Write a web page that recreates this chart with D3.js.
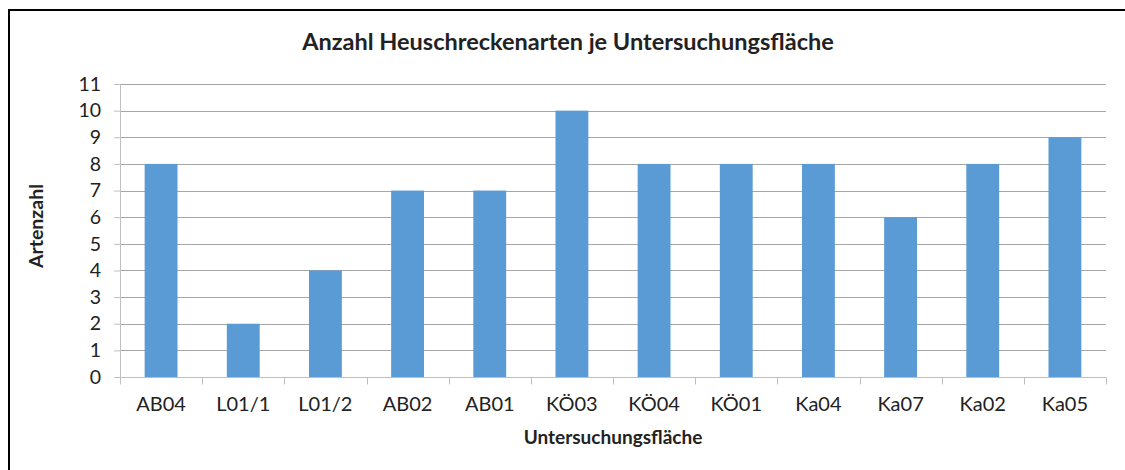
<!DOCTYPE html>
<html>
<head>
<meta charset="utf-8">
<script src="https://cdn.jsdelivr.net/npm/d3@7"></script>
<style>
  body { margin: 0; background: #fff; }
  text { font-family: Lato, "Open Sans", sans-serif; fill: #222; }
</style>
</head>
<body>
<div id="chart"></div>
<script>
// Data
const categories = ['AB04', 'L01/1', 'L01/2', 'AB02', 'AB01', 'KÖ03', 'KÖ04', 'KÖ01', 'Ka04', 'Ka07', 'Ka02', 'Ka05'];
const values = [8, 2, 4, 7, 7, 10, 8, 8, 8, 6, 8, 9];
const yTicks = [0, 1, 2, 3, 4, 5, 6, 7, 8, 9, 10, 11];

const width = 1125;
const height = 470;
const margin = { top: 84, right: 19, bottom: 93, left: 120 };

const svg = d3.select('#chart')
  .append('svg')
  .attr('width', width)
  .attr('height', height);

// outer frame
svg.append('rect')
  .attr('x', 9).attr('y', 10)
  .attr('width', width + 10).attr('height', height)
  .attr('fill', 'none')
  .attr('stroke', '#000')
  .attr('stroke-width', 2);

const x = d3.scaleBand()
  .domain(categories)
  .range([margin.left, width - margin.right])
  .paddingInner(0.6)
  .paddingOuter(0.3);

const y = d3.scaleLinear()
  .domain([0, 11])
  .range([height - margin.bottom, margin.top]);

// gridlines
svg.append('g')
  .selectAll('line')
  .data(yTicks.filter(d => d > 0))
  .enter()
  .append('line')
  .attr('x1', margin.left)
  .attr('x2', width - margin.right)
  .attr('y1', d => Math.round(y(d)) + 0.5)
  .attr('y2', d => Math.round(y(d)) + 0.5)
  .attr('stroke', '#a6a6a6')
  .attr('stroke-width', 1);

// bars
svg.append('g')
  .selectAll('rect')
  .data(values)
  .enter()
  .append('rect')
  .attr('x', (d, i) => x(categories[i]))
  .attr('y', d => y(d))
  .attr('width', x.bandwidth())
  .attr('height', d => y(0) - y(d))
  .attr('fill', '#5b9bd5');

// y axis
const yAxis = svg.append('g')
  .attr('transform', `translate(${margin.left},0)`)
  .call(d3.axisLeft(y).tickValues(yTicks).tickSize(6).tickPadding(13).tickFormat(d3.format('d')));
yAxis.select('.domain').attr('stroke', '#bfbfbf');
yAxis.selectAll('.tick line').attr('stroke', '#bfbfbf');
yAxis.selectAll('.tick text').attr('font-size', 19.5).attr('font-family', 'Lato, sans-serif').attr('fill', '#222');

// x axis with ticks between categories
const xAxisY = Math.round(y(0)) + 0.5;
svg.append('line')
  .attr('x1', margin.left).attr('x2', width - margin.right)
  .attr('y1', xAxisY).attr('y2', xAxisY)
  .attr('stroke', '#bfbfbf');

const step = x.step();
const boundaries = d3.range(categories.length + 1).map(i => margin.left + i * step);
svg.append('g')
  .selectAll('line')
  .data(boundaries)
  .enter()
  .append('line')
  .attr('x1', d => Math.round(d) + 0.5)
  .attr('x2', d => Math.round(d) + 0.5)
  .attr('y1', xAxisY)
  .attr('y2', xAxisY + 7)
  .attr('stroke', '#bfbfbf');

svg.append('g')
  .selectAll('text')
  .data(categories)
  .enter()
  .append('text')
  .attr('x', d => x(d) + x.bandwidth() / 2)
  .attr('y', 411)
  .attr('text-anchor', 'middle')
  .attr('font-size', 20)
  .text(d => d);

// titles
svg.append('text')
  .attr('x', 568)
  .attr('y', 50)
  .attr('text-anchor', 'middle')
  .attr('font-size', 23.5)
  .attr('font-weight', 'bold')
  .text('Anzahl Heuschreckenarten je Untersuchungsfläche');

svg.append('text')
  .attr('x', 613)
  .attr('y', 444)
  .attr('text-anchor', 'middle')
  .attr('font-size', 19)
  .attr('font-weight', 'bold')
  .text('Untersuchungsfläche');

svg.append('text')
  .attr('transform', 'translate(43,226) rotate(-90)')
  .attr('text-anchor', 'middle')
  .attr('font-size', 19.5)
  .attr('font-weight', 'bold')
  .text('Artenzahl');
</script>
</body>
</html>
